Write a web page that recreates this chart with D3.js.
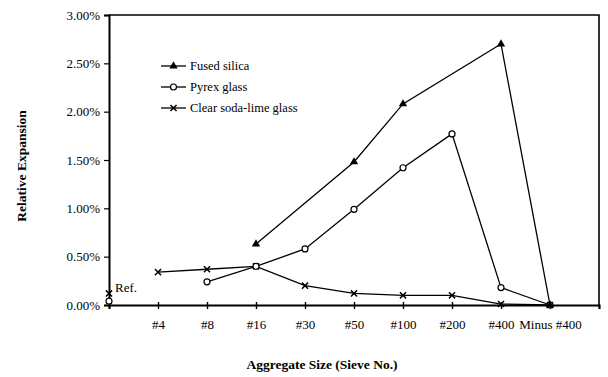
<!DOCTYPE html>
<html>
<head>
<meta charset="utf-8">
<script src="https://cdn.jsdelivr.net/npm/d3@7"></script>
<style>
  body { margin: 0; background: #fff; }
  svg text { font-family: "Liberation Serif", "Times New Roman", serif; fill: #000; }
  .tick text { font-size: 13px; }
  .axis-title { font-size: 13.5px; font-weight: bold; }
  .legend text { font-size: 12.5px; }
</style>
</head>
<body>
<div id="wrapper"></div>
<script>
// 1. data
const sieves = ["Ref", "#4", "#8", "#16", "#30", "#50", "#100", "#200", "#400", "Minus #400"];
const yTicks = [0, 0.5, 1, 1.5, 2, 2.5, 3];

// values in %, index into sieves
const fusedSilica = [[3, 0.63], [5, 1.48], [6, 2.08], [8, 2.70], [9, 0.00]];
const pyrexGlass = [[2, 0.24], [3, 0.40], [4, 0.58], [5, 0.99], [6, 1.42], [7, 1.77], [8, 0.18], [9, 0.00]];
const sodaLime = [[1, 0.34], [2, 0.37], [3, 0.40], [4, 0.20], [5, 0.12], [6, 0.10], [7, 0.10], [8, 0.01], [9, 0.00]];
// reference points (unconnected)
const refPyrex = [[0, 0.04]];
const refSoda = [[0, 0.12]];

const seriesNames = ["Fused silica", "Pyrex glass", "Clear soda-lime glass"];

// 2. dimensions
const width = 608, height = 377;
const margin = { top: 15, right: 9, bottom: 72, left: 109 };

const svg = d3.select("#wrapper").append("svg")
  .attr("width", width)
  .attr("height", height);

// 3. scales
const x = d3.scaleLinear().domain([0, sieves.length]).range([margin.left, width - margin.right]);
const y = d3.scaleLinear().domain([0, 3]).range([height - margin.bottom, margin.top]);

// frame (top + right)
svg.append("path")
  .attr("d", `M${x(0)},${y(3)}H${x(sieves.length)}V${y(0)}`)
  .attr("fill", "none").attr("stroke", "#000").attr("stroke-width", 1.6);

// 4. axes
const yAxis = svg.append("g")
  .attr("transform", `translate(${x(0)},0)`)
  .call(d3.axisLeft(y).tickValues(yTicks).tickSize(5).tickPadding(4)
    .tickFormat(d => d3.format(".2f")(d) + "%"));
yAxis.select(".domain").attr("stroke-width", 2);
yAxis.selectAll(".tick line").attr("stroke-width", 1.2);

const xAxis = svg.append("g")
  .attr("transform", `translate(0,${y(0)})`)
  .call(d3.axisBottom(x).tickValues(d3.range(1, sieves.length)).tickSize(4).tickPadding(11)
    .tickFormat(i => sieves[i]));
xAxis.select(".domain").attr("stroke-width", 2.2);
xAxis.selectAll(".tick line").attr("y1", -3).attr("stroke-width", 1.4);

// axis titles
svg.append("text").attr("class", "axis-title")
  .attr("x", 322).attr("y", 369).attr("text-anchor", "middle")
  .text("Aggregate Size (Sieve No.)");
svg.append("text").attr("class", "axis-title")
  .attr("transform", "translate(26,166) rotate(-90)")
  .attr("text-anchor", "middle")
  .text("Relative Expansion");

// 5. lines + markers
const line = d3.line().x(d => x(d[0])).y(d => y(d[1]));

const tri = d3.symbol().type(d3.symbolTriangle).size(30);
const cross = d3.symbol().type(d3.symbolX).size(26);

function drawSeries(data, kind) {
  svg.append("path").datum(data)
    .attr("d", line).attr("fill", "none")
    .attr("stroke", "#000").attr("stroke-width", 1.3);
  drawMarkers(data, kind);
}

function drawMarkers(data, kind) {
  const g = svg.append("g");
  data.forEach(d => addMarker(g, x(d[0]), y(d[1]), kind));
}

function addMarker(g, cx, cy, kind) {
  if (kind === "tri") {
    g.append("path").attr("d", tri).attr("transform", `translate(${cx},${cy})`).attr("fill", "#000");
  } else if (kind === "circle") {
    g.append("circle").attr("cx", cx).attr("cy", cy).attr("r", 3)
      .attr("fill", "#fff").attr("stroke", "#000").attr("stroke-width", 1.2);
  } else {
    g.append("path").attr("d", cross).attr("transform", `translate(${cx},${cy})`)
      .attr("fill", "none").attr("stroke", "#000").attr("stroke-width", 1.5);
  }
}

drawSeries(sodaLime, "x");
drawSeries(pyrexGlass, "circle");
drawSeries(fusedSilica, "tri");
drawMarkers(refPyrex, "circle");
drawMarkers(refSoda, "x");

svg.append("text").attr("class", "tick")
  .attr("x", x(0) + 6).attr("y", y(0.12) - 1)
  .style("font-size", "13px")
  .text("Ref.");

// 6. legend
const kinds = ["tri", "circle", "x"];
const legend = svg.append("g").attr("class", "legend");
seriesNames.forEach((name, i) => {
  const ly = 66 + i * 21;
  legend.append("line").attr("x1", 161).attr("x2", 186).attr("y1", ly).attr("y2", ly)
    .attr("stroke", "#000").attr("stroke-width", 1.3);
  addMarker(legend, 173.5, ly, kinds[i]);
  legend.append("text").attr("x", 190).attr("y", ly + 4).text(name);
});
</script>
</body>
</html>
